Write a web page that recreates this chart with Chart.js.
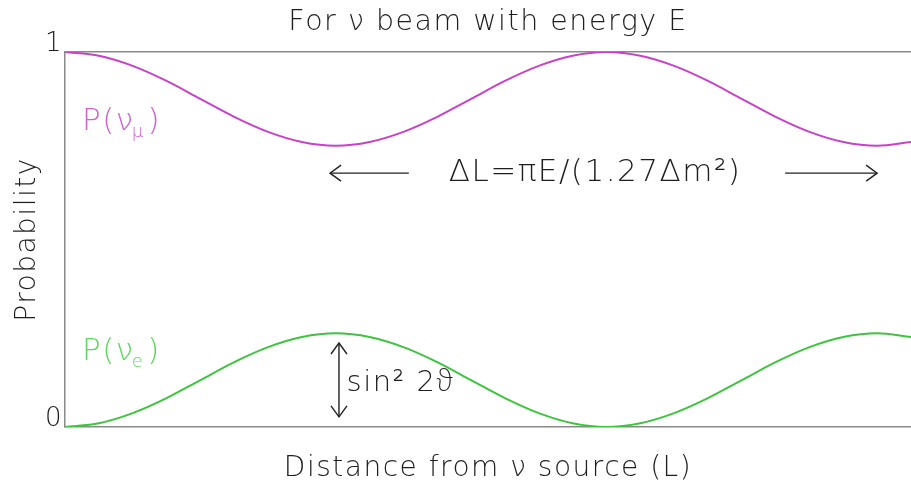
<!DOCTYPE html>
<html>
<head>
<meta charset="utf-8">
<script src="https://cdn.jsdelivr.net/npm/chart.js@4.4.1/dist/chart.umd.min.js"></script>
<style>
  html, body { margin: 0; padding: 0; background: #ffffff; }
  #wrap { width: 911px; height: 493px; }
</style>
</head>
<body>
<div id="wrap"><canvas id="c" width="911" height="493"></canvas></div>
<script>
// Distance from the source, in units of the oscillation half-length ΔL
const distance = [0, 0.125, 0.25, 0.375, 0.5, 0.625, 0.75, 0.875, 1,
  1.125, 1.25, 1.375, 1.5, 1.625, 1.75, 1.875, 2,
  2.125, 2.25, 2.375, 2.5, 2.625, 2.75, 2.875, 3, 3.125];

// Appearance probability P(nu_e)
const probE = [0, 0.010, 0.037, 0.077, 0.125, 0.173, 0.213, 0.240, 0.250,
  0.240, 0.213, 0.173, 0.125, 0.077, 0.037, 0.010, 0,
  0.010, 0.037, 0.077, 0.125, 0.173, 0.213, 0.240, 0.250, 0.240];

// Survival probability P(nu_mu)
const probMu = [1, 0.990, 0.963, 0.923, 0.875, 0.827, 0.787, 0.760, 0.750,
  0.760, 0.787, 0.827, 0.875, 0.923, 0.963, 0.990, 1,
  0.990, 0.963, 0.923, 0.875, 0.827, 0.787, 0.760, 0.750, 0.760];

const yTickLabels = ['0', '1'];

const FONT = '"DejaVu Sans", "Noto Sans", sans-serif';
const WEIGHT = '200';
const INK = '#1e1e1e';
const AXIS = '#8a8a8a';
const MAGENTA_LINE = '#c842c8';
const MAGENTA_TEXT = '#d060d0';
const GREEN_LINE = '#3ec43e';
const GREEN_TEXT = '#5cd85c';

function toPoints(xs, ys) { return xs.map((x, i) => ({ x: x, y: ys[i] })); }

// Wide, airy lettering for every text on the canvas
const spacing = {
  id: 'spacing',
  beforeDraw(chart) { chart.ctx.letterSpacing = '1.5px'; }
};

// Text and arrow annotations drawn in data coordinates
const annotations = {
  id: 'annotations',
  afterDatasetsDraw(chart) {
    const ctx = chart.ctx;
    const xs = chart.scales.x, ys = chart.scales.y;
    const px = v => xs.getPixelForValue(v);
    const py = v => ys.getPixelForValue(v);

    function probLabel(x, y, sub, color) {
      ctx.save();
      ctx.fillStyle = color;
      ctx.textBaseline = 'middle';
      ctx.textAlign = 'left';
      ctx.font = WEIGHT + ' 31px ' + FONT;
      let cx = x;
      ctx.fillText('P(', cx, y); cx += ctx.measureText('P(').width;
      ctx.fillText('\u03BD', cx, y); cx += ctx.measureText('\u03BD').width;
      ctx.font = WEIGHT + ' 18px ' + FONT;
      ctx.fillText(sub, cx - 3, y + 10); cx += ctx.measureText(sub).width;
      ctx.font = WEIGHT + ' 31px ' + FONT;
      ctx.fillText(')', cx, y);
      ctx.restore();
    }

    function arrowHead(x, y, dx, dy) {
      // open chevron pointing along (dx, dy)
      const len = 11, half = 8;
      const nx = -dy, ny = dx;
      ctx.beginPath();
      ctx.moveTo(x - dx * len + nx * half, y - dy * len + ny * half);
      ctx.lineTo(x, y);
      ctx.lineTo(x - dx * len - nx * half, y - dy * len - ny * half);
      ctx.stroke();
    }

    probLabel(px(0.063), py(0.813), '\u03BC', MAGENTA_TEXT);
    probLabel(px(0.063), py(0.200), 'e', GREEN_TEXT);

    ctx.save();
    ctx.strokeStyle = '#222222';
    ctx.lineWidth = 1.4;
    // horizontal arrows marking one oscillation length
    const ay = py(0.677);
    ctx.beginPath(); ctx.moveTo(px(0.979), ay); ctx.lineTo(px(1.27), ay); ctx.stroke();
    arrowHead(px(0.979), ay, -1, 0);
    ctx.beginPath(); ctx.moveTo(px(2.66), ay); ctx.lineTo(px(3.0), ay); ctx.stroke();
    arrowHead(px(3.0), ay, 1, 0);
    // vertical double arrow marking the amplitude
    const vx = px(1.012);
    ctx.beginPath(); ctx.moveTo(vx, py(0.224)); ctx.lineTo(vx, py(0.027)); ctx.stroke();
    arrowHead(vx, py(0.224), 0, -1);
    arrowHead(vx, py(0.027), 0, 1);

    ctx.fillStyle = INK;
    ctx.textBaseline = 'middle';
    ctx.textAlign = 'center';
    ctx.font = WEIGHT + ' 31px ' + FONT;
    ctx.fillText('\u0394L=\u03C0E/(1.27\u0394m\u00B2)', px(1.958), ay);
    ctx.textAlign = 'left';
    ctx.font = WEIGHT + ' 29px ' + FONT;
    ctx.fillText('sin\u00B2 2\u03D1', px(1.04), py(0.117));
    ctx.restore();
  }
};

new Chart(document.getElementById('c'), {
  type: 'line',
  data: {
    datasets: [
      {
        label: 'P(\u03BD\u03BC)',
        data: toPoints(distance, probMu),
        borderColor: MAGENTA_LINE,
        borderWidth: 2,
        pointRadius: 0,
        cubicInterpolationMode: 'monotone',
        fill: false
      },
      {
        label: 'P(\u03BDe)',
        data: toPoints(distance, probE),
        borderColor: GREEN_LINE,
        borderWidth: 2,
        pointRadius: 0,
        cubicInterpolationMode: 'monotone',
        fill: false
      }
    ]
  },
  options: {
    responsive: false,
    animation: false,
    devicePixelRatio: 1,
    layout: { padding: 0 },
    plugins: {
      legend: { display: false },
      tooltip: { enabled: false },
      title: {
        display: true,
        fullSize: false,
        text: 'For \u03BD beam with energy E',
        color: INK,
        font: { family: FONT, size: 28.5, weight: WEIGHT, lineHeight: 1.2 },
        padding: { top: 5, bottom: 12.8 }
      }
    },
    scales: {
      x: {
        type: 'linear',
        min: 0,
        max: 3.125,
        grid: { display: false },
        border: { display: true, color: AXIS, width: 1.5 },
        ticks: { display: false },
        title: {
          display: true,
          text: 'Distance from \u03BD source (L)',
          color: INK,
          font: { family: FONT, size: 28, weight: WEIGHT, lineHeight: 1.2 },
          padding: { top: 0, bottom: 7.2 }
        },
        afterFit: s => { s.height = 66; }
      },
      y: {
        min: 0,
        max: 1,
        grid: {
          display: true,
          drawTicks: false,
          lineWidth: 1.5,
          color: c => (c.tick && c.tick.value === 1 ? AXIS : 'rgba(0,0,0,0)')
        },
        border: { display: true, color: AXIS, width: 1.5 },
        ticks: {
          stepSize: 1,
          padding: 2,
          labelOffset: -8,
          color: INK,
          font: { family: FONT, size: 26, weight: WEIGHT },
          callback: v => yTickLabels[v]
        },
        title: {
          display: true,
          text: 'Probability',
          color: INK,
          font: { family: FONT, size: 28, weight: WEIGHT, lineHeight: 1.2 },
          padding: { top: 11.2, bottom: 0 }
        },
        afterFit: s => { s.width = 65; }
      }
    }
  },
  plugins: [spacing, annotations]
});
</script>
</body>
</html>
